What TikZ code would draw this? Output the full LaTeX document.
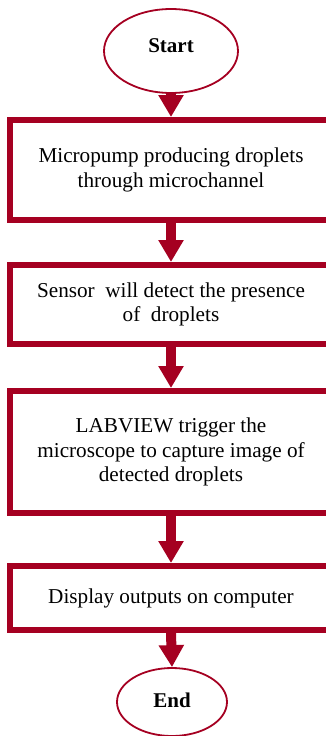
\documentclass[tikz,border=0pt]{standalone}
\usepackage{fontspec}
\setmainfont{Liberation Serif}
\usetikzlibrary{shapes.geometric,arrows.meta}
\definecolor{flowred}{RGB}{165,0,33}
\begin{document}
\begin{tikzpicture}[x=1pt,y=-1pt,
  terminal/.style={ellipse,draw=flowred,line width=1.8pt,inner sep=0pt,
    font=\fontsize{21}{24}\selectfont\bfseries},
  stepbox/.style={rectangle,draw=flowred,line width=6pt,minimum width=322pt,
    inner sep=0pt,align=center,font=\fontsize{21.2}{24.5}\selectfont},
  flowarrow/.style={draw=flowred,line width=10pt,
    -{Triangle[width=24pt,length=22pt]},fill=flowred}]
\useasboundingbox (0,0) rectangle (325,736);
\node[terminal,minimum width=134pt,minimum height=84pt] (start) at (171,51) {\raisebox{11pt}{Start}};
\node[stepbox,minimum height=100pt] (b1) at (171,170) {Micropump producing droplets\\through microchannel};
\node[stepbox,minimum height=79pt] (b2) at (171,304.5) {Sensor\ \ will detect the presence\\of\ \ droplets};
\node[stepbox,minimum height=122pt] (b3) at (171,452) {LABVIEW trigger the\\microscope to capture image of\\detected droplets};
\node[stepbox,minimum height=64pt] (b4) at (171,598) {Display outputs on computer};
\node[terminal,minimum width=110pt,minimum height=68pt] (end) at (172,702) {\raisebox{4pt}{End}};
\draw[flowarrow] (start.south) -- (b1.north);
\draw[flowarrow] (b1.south) -- (b2.north);
\draw[flowarrow] (b2.south) -- (b3.north);
\draw[flowarrow] (b3.south) -- (b4.north);
\draw[flowarrow] (b4.south) -- (end.north);
\end{tikzpicture}
\end{document}
